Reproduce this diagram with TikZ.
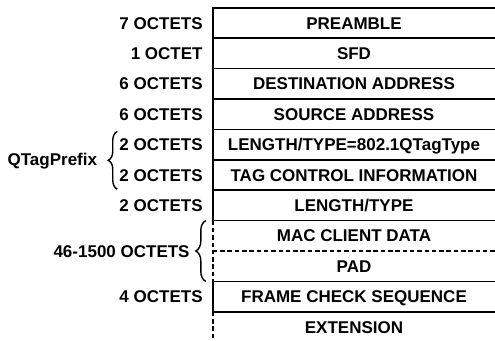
\documentclass[tikz,border=0pt]{standalone}
\usepackage{fontspec}
\setmainfont{Liberation Sans}
\usetikzlibrary{positioning, decorations.pathreplacing}
\tikzset{
    field_box/.style={
        rectangle, inner sep=0pt, minimum width=282pt, minimum height=30pt,
        text height=12.3pt, text depth=0pt,
        align=center, font=\fontsize{17}{19}\selectfont\bfseries
    },
    octet_lbl/.style={
        anchor=east, inner sep=0pt, text height=12.3pt, text depth=0pt,
        font=\fontsize{17}{19}\selectfont\bfseries
    },
    frame_line/.style={draw=black, line width=1.7pt, line cap=rect},
    frame_dash/.style={draw=black, line width=1.7pt, dash pattern=on 4.5pt off 2.8pt},
    brace_line/.style={draw=black, line width=1.4pt, decorate}
}

\begin{document}
\begin{tikzpicture}[x=1pt, y=-1pt]
    \useasboundingbox (0,0) rectangle (495,340);

    % frame fields
    \node[field_box] (f1) at (354, 23) {PREAMBLE};
    \node[field_box, below=0pt of f1] (f2) {SFD};
    \node[field_box, below=0pt of f2] (f3) {DESTINATION ADDRESS};
    \node[field_box, below=0pt of f3] (f4) {SOURCE ADDRESS};
    \node[field_box, below=0pt of f4] (f5) {LENGTH/TYPE=802.1QTagType};
    \node[field_box, below=0pt of f5] (f6) {TAG CONTROL INFORMATION};
    \node[field_box, below=0pt of f6] (f7) {LENGTH/TYPE};
    \node[field_box, below=0pt of f7] (f8) {MAC CLIENT DATA};
    \node[field_box, below=0pt of f8] (f9) {PAD};
    \node[field_box, below=0pt of f9] (f10) {FRAME CHECK SEQUENCE};
    \node[field_box, below=0pt of f10] (f11) {EXTENSION};

    % octet counts
    \node[octet_lbl, left=10pt of f1.west] (l1) {7 OCTETS};
    \node[octet_lbl, left=10pt of f2.west] (l2) {1 OCTET};
    \node[octet_lbl, left=10pt of f3.west] (l3) {6 OCTETS};
    \node[octet_lbl, left=10pt of f4.west] (l4) {6 OCTETS};
    \node[octet_lbl, left=10pt of f5.west] (l5) {2 OCTETS};
    \node[octet_lbl, left=10pt of f6.west] (l6) {2 OCTETS};
    \node[octet_lbl, left=10pt of f7.west] (l7) {2 OCTETS};
    \node[octet_lbl, left=10pt of f10.west] (l10) {4 OCTETS};

    % rules between fields
    \draw[frame_line] (f1.north east) -- (f1.north west) -- (f7.south west)
        (f1.south west) -- (f1.south east)
        (f2.south west) -- (f2.south east)
        (f3.south west) -- (f3.south east)
        (f4.south west) -- (f4.south east)
        (f5.south west) -- (f5.south east)
        (f6.south west) -- (f6.south east)
        (f7.south west) -- (f7.south east);
    \draw[frame_line] (f10.south east) -- (f10.south west) -- (f10.north west) -- (f10.north east);
    \draw[frame_dash] (f8.north west) -- (f9.south west);
    \draw[frame_dash] (f8.south west) -- (f8.south east);
    \draw[frame_dash] (f11.north west) -- (f11.south west) -- (f11.south east);

    % QTag prefix group
    \coordinate (b1top) at ([xshift=-2pt, yshift=-2pt]l5.west |- f5.north);
    \coordinate (b1bot) at ([xshift=-2pt, yshift=1pt]l6.west |- f6.south);
    \draw[brace_line, decoration={brace, amplitude=9pt}] (b1bot) -- (b1top);
    \node[octet_lbl] (qtag) at ([xshift=-22pt]l5.west |- f5.south) {QTagPrefix};

    % client data group
    \coordinate[left=7pt of f8.north west] (b2top);
    \coordinate[left=7pt of f9.south west] (b2bot);
    \draw[brace_line, decoration={brace, amplitude=10pt}] (b2bot) -- (b2top);
    \node[octet_lbl] (l8) at ([xshift=-23pt]f8.south west) {46-1500 OCTETS};
\end{tikzpicture}
\end{document}
